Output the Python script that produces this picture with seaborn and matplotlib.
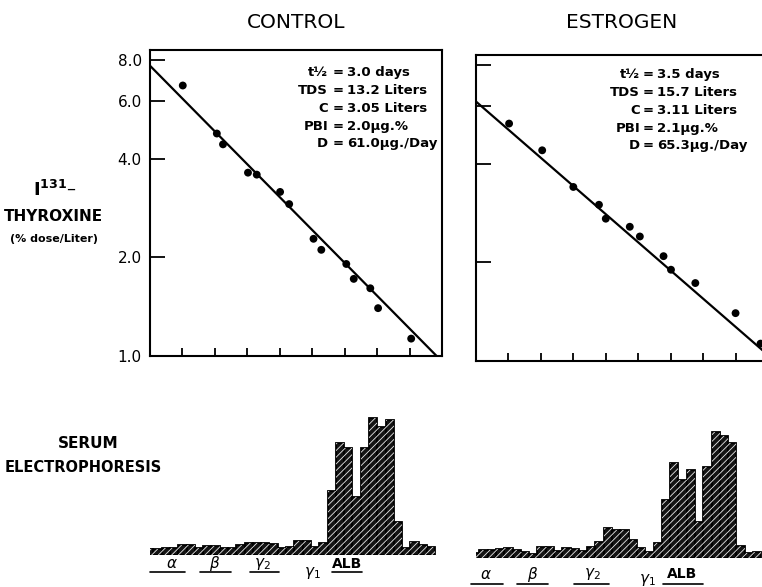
import numpy as np
import pandas as pd
import matplotlib
matplotlib.use("Agg")
import matplotlib.pyplot as plt
import matplotlib.transforms as mtransforms
import seaborn as sns

# I-131 thyroxine disappearance (day, % dose / liter)
control_days = [1.01, 2.06, 2.25, 3.02, 3.29, 4.01, 4.29, 5.04, 5.28, 6.05, 6.28, 6.79, 7.03, 8.05]
control_dose = [6.70, 4.78, 4.43, 3.63, 3.58, 3.17, 2.91, 2.28, 2.11, 1.91, 1.72, 1.61, 1.40, 1.13]
estrogen_days = [1.02, 2.04, 3.00, 3.79, 4.00, 4.74, 5.05, 5.78, 6.01, 6.76, 8.00, 8.77]
estrogen_dose = [5.31, 4.40, 3.40, 3.00, 2.72, 2.57, 2.40, 2.09, 1.90, 1.73, 1.40, 1.13]

# fitted lines: value at day 0, half-life (days)
control_fit = (7.7, 3.0)
estrogen_fit = (6.2, 3.5)

stat_names = ["t½", "TDS", "C", "PBI", "D"]
control_stats = ["3.0 days", "13.2 Liters", "3.05 Liters", "2.0µg.%", "61.0µg./Day"]
estrogen_stats = ["3.5 days", "15.7 Liters", "3.11 Liters", "2.1µg.%", "65.3µg./Day"]

y_ticks = [1.0, 2.0, 4.0, 6.0, 8.0]
y_tick_labels = ["1.0", "2.0", "4.0", "6.0", "8.0"]

# serum electrophoresis strips (relative density per scan step)
control_scan = [6, 6, 7, 7, 10, 10, 7, 9, 9, 7, 7, 10, 12, 12, 12, 11, 7, 8, 14, 14,
                8, 12, 64, 112, 107, 58, 107, 137, 128, 135, 33, 7, 13, 10, 8]
estrogen_scan = [5, 8, 8, 9, 10, 8, 6, 4, 11, 11, 7, 10, 9, 7, 11, 16, 30, 28, 28, 18,
                 10, 6, 15, 58, 95, 78, 88, 36, 91, 126, 122, 115, 12, 5, 6]

fraction_names = [r"$\alpha$", r"$\beta$", r"$\gamma_2$", r"$\gamma_1$", "ALB"]
control_fraction_pos = [3.3, 8.4, 14.2, 20.2, 24.3]
control_fraction_span = [(0.55, 4.8), (6.6, 10.4), (12.6, 16.2), None, (22.5, 26.1)]
estrogen_fraction_pos = [1.8, 7.4, 14.6, 21.3, 25.5]
estrogen_fraction_span = [(0.0, 3.8), (5.6, 9.3), (12.4, 16.6), None, (23.2, 28.0)]

sns.set_style("white")
plt.rcParams["font.family"] = ["DejaVu Sans"]
plt.rcParams["text.color"] = "black"
plt.rcParams["hatch.linewidth"] = 0.6

W, H = 762, 587
fig = plt.figure(figsize=(W / 100, H / 100), dpi=100)


def px_box(left, top, width, height):
    return [left / W, 1 - (top + height) / H, width / W, height / H]


def decay_panel(ax, days, dose, fit, stats, title, title_y, stat_x, stat_y, gaps, show_labels):
    df = pd.DataFrame({"day": days, "dose": dose})
    sns.scatterplot(data=df, x="day", y="dose", color="black", s=32,
                    edgecolor="none", ax=ax, zorder=3)
    t = np.linspace(0, 9, 200)
    sns.lineplot(x=t, y=fit[0] * 0.5 ** (t / fit[1]), color="black", lw=1.6, ax=ax)
    ax.set_yscale("log")
    ax.set_xlim(0, 9)
    ax.set_ylim(1.0, 8.6)
    ax.set_xticks(range(1, 9))
    ax.set_xticklabels([])
    ax.set_yticks(y_ticks)
    ax.minorticks_off()
    if show_labels:
        ax.set_yticklabels(y_tick_labels, fontsize=11, color="black")
    else:
        ax.set_yticklabels([])
    ax.tick_params(axis="x", bottom=True, direction="in", length=6, width=1.3, color="black")
    ax.tick_params(axis="y", left=True, direction="in", length=11, width=1.3, color="black", pad=6)
    ax.set_xlabel("")
    ax.set_ylabel("")
    for s in ax.spines.values():
        s.set_color("black")
        s.set_linewidth(1.5)
    ax.text(0.5, title_y, title, transform=ax.transAxes, ha="center", va="center", fontsize=14.5)
    for i, (name, val) in enumerate(zip(stat_names, stats)):
        y = stat_y - i * 0.058
        ax.text(stat_x, y, name, transform=ax.transAxes, ha="right", va="center",
                fontsize=9.5, fontweight="bold")
        ax.text(stat_x + gaps[0], y, "=", transform=ax.transAxes, ha="center", va="center",
                fontsize=9.5, fontweight="bold")
        ax.text(stat_x + gaps[1], y, val, transform=ax.transAxes, ha="left", va="center",
                fontsize=9.5, fontweight="bold")


def scan_strip(ax, heights, pos, spans, label_y, line_y, g1_drop):
    scan = pd.DataFrame({"step": np.arange(len(heights)) + 0.5, "density": heights})
    rng = (0, len(heights))
    sns.histplot(data=scan, x="step", weights="density", binwidth=1, binrange=rng,
                 color="#141414", edgecolor="black", linewidth=1.3, alpha=1, ax=ax)
    sns.histplot(data=scan, x="step", weights="density", binwidth=1, binrange=rng,
                 facecolor="none", edgecolor="#e8e8e8", hatch="/////", linewidth=0,
                 alpha=1, ax=ax)
    ax.set_xlim(0.6, 35.8)
    ax.set_ylim(0, 155)
    ax.axis("off")
    tr = mtransforms.blended_transform_factory(ax.transData, ax.transAxes)
    for name, x, span in zip(fraction_names, pos, spans):
        dy = -g1_drop if name == r"$\gamma_1$" else 0
        ax.text(x, label_y + dy, name, transform=tr, ha="center", va="center",
                fontsize=11 if name != "ALB" else 10, fontweight="bold")
        if span is not None:
            ax.plot(span, [line_y, line_y], color="black", lw=1.2, transform=tr, clip_on=False)


ax_c = fig.add_axes(px_box(150, 50, 292, 306))
ax_e = fig.add_axes(px_box(476, 55, 292, 306))
decay_panel(ax_c, control_days, control_dose, control_fit, control_stats,
            "CONTROL", 1.09, 0.61, 0.925, (0.033, 0.065), True)
decay_panel(ax_e, estrogen_days, estrogen_dose, estrogen_fit, estrogen_stats,
            "ESTROGEN", 1.105, 0.562, 0.935, (0.028, 0.058), False)

hc = fig.add_axes(px_box(150, 400, 292, 155))
he = fig.add_axes(px_box(476, 403, 292, 155))
scan_strip(hc, control_scan, control_fraction_pos, control_fraction_span, -0.055, -0.11, 0.06)
scan_strip(he, estrogen_scan, estrogen_fraction_pos, estrogen_fraction_span, -0.105, -0.165, 0.035)

fig.text(55 / W, 1 - 190 / H, r"I$^{\mathregular{131}}$–", ha="center", va="center",
         fontsize=13, fontweight="bold")
fig.text(53 / W, 1 - 216 / H, "THYROXINE", ha="center", va="center", fontsize=11, fontweight="bold")
fig.text(54 / W, 1 - 239 / H, "(% dose/Liter)", ha="center", va="center", fontsize=8, fontweight="bold")
fig.text(88 / W, 1 - 443 / H, "SERUM", ha="center", va="center", fontsize=11, fontweight="bold")
fig.text(83 / W, 1 - 467 / H, "ELECTROPHORESIS", ha="center", va="center", fontsize=10.5, fontweight="bold")

fig.savefig("out.png", dpi=100)
